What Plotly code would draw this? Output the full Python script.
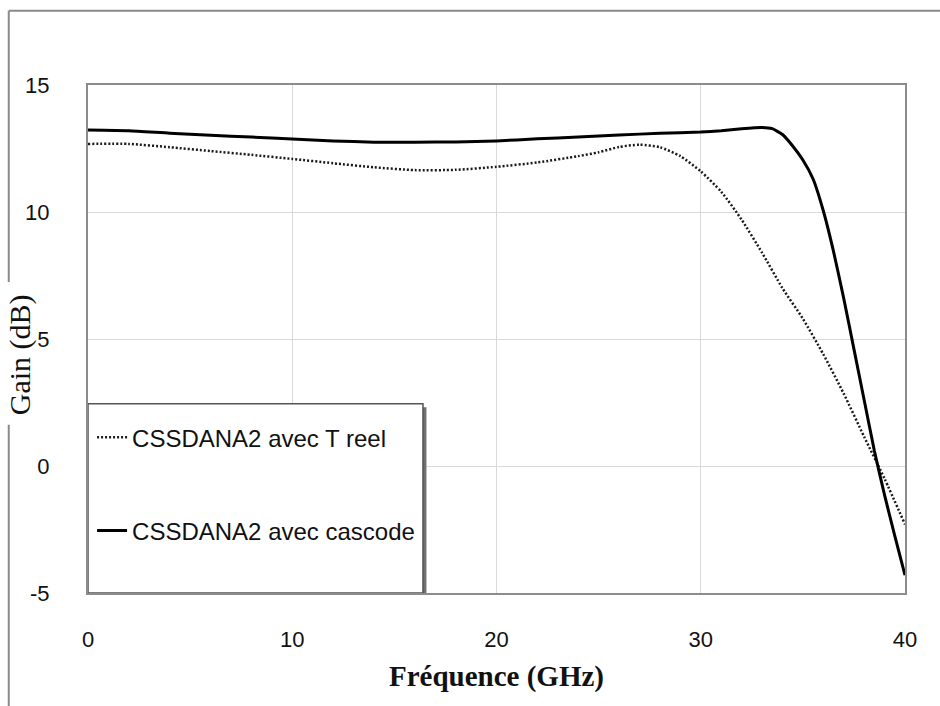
import plotly.graph_objects as go

# Frequency sweep (GHz) and measured gain (dB) for the two amplifier variants
freq_treel = [0, 2, 4, 6, 8, 10, 12, 14, 16, 18, 20, 22, 24, 25, 26, 27, 28, 29, 30,
              31, 32, 33, 34, 35, 36, 37, 38, 39, 40]
gain_treel = [12.68, 12.68, 12.55, 12.4, 12.25, 12.09, 11.92, 11.76, 11.65, 11.66, 11.78,
              11.95, 12.2, 12.35, 12.56, 12.65, 12.55, 12.2, 11.6,
              10.8, 9.7, 8.4, 7.0, 5.8, 4.4, 2.85, 1.15, -0.5, -2.3]

freq_cascode = [0, 2, 4, 6, 8, 10, 12, 14, 16, 18, 20, 22, 24, 26, 28, 30, 31, 32, 33,
                33.5, 34, 34.5, 35, 35.5, 36, 36.5, 37, 37.5, 38, 38.5, 39, 39.5, 40]
gain_cascode = [13.23, 13.2, 13.1, 13.02, 12.95, 12.87, 12.8, 12.75, 12.75, 12.76, 12.8,
                12.88, 12.95, 13.03, 13.1, 13.15, 13.2, 13.28, 13.33,
                13.28, 13.05, 12.6, 12.05, 11.3, 10.05, 8.45, 6.6, 4.6, 2.6, 0.6, -1.15, -2.75, -4.3]

x_ticks = [0, 10, 20, 30, 40]
y_ticks = [-5, 0, 5, 10, 15]
y_tick_text = ["-5", "0", "5", "10", "15"]

name_treel = "CSSDANA2 avec T reel"
name_cascode = "CSSDANA2 avec cascode"

fig = go.Figure()
fig.add_trace(go.Scatter(
    x=freq_treel, y=gain_treel, name=name_treel, mode="lines",
    line=dict(color="#1a1a1a", width=2.5, dash="2px,2px", shape="spline", smoothing=0.6),
    legendgroup="a",
))
fig.add_trace(go.Scatter(
    x=freq_cascode, y=gain_cascode, name=name_cascode, mode="lines",
    line=dict(color="#000000", width=3, shape="spline", smoothing=0.5),
    legendgroup="b",
))

# legend box with drop shadow, drawn in data space at lower left (above the grid)
box_x1, box_y1 = 16.4, 2.45
fig.add_shape(type="rect", xref="x", yref="y", x0=0.15, y0=-5.14, x1=box_x1 + 0.17, y1=box_y1 - 0.14,
              fillcolor="#707070", line=dict(width=0), layer="between")
fig.add_shape(type="rect", xref="x", yref="y", x0=0, y0=-5, x1=box_x1, y1=box_y1,
              fillcolor="white", line=dict(color="#555555", width=1.5), layer="between")

# outer frame: top line, and left line interrupted where the y title sits
frame = dict(color="#8a8a8a", width=2)
fx, fy_top, fy_bot = -0.097, 1.146, -0.25
fig.add_shape(type="line", xref="paper", yref="paper", x0=fx, x1=1.1, y0=fy_top, y1=fy_top, line=frame)
fig.add_shape(type="line", xref="paper", yref="paper", x0=fx, x1=fx, y0=fy_top, y1=0.612, line=frame)
fig.add_shape(type="line", xref="paper", yref="paper", x0=fx, x1=fx, y0=0.331, y1=fy_bot, line=frame)

fig.add_annotation(xref="paper", yref="paper", x=-0.083, y=0.4685, xanchor="center", yanchor="middle",
                   text="Gain (dB)", textangle=-90, showarrow=False,
                   font=dict(family="Liberation Serif, Times New Roman, serif", size=30, color="#111111"))
fig.add_annotation(xref="paper", yref="paper", x=0.5, y=-0.1634, xanchor="center", yanchor="middle",
                   text="<b>Fréquence (GHz)</b>", showarrow=False,
                   font=dict(family="Liberation Serif, Times New Roman, serif", size=29, color="#111111"))

axis_common = dict(
    showline=True, mirror=True, linecolor="#8c8c8c", linewidth=2,
    showgrid=True, gridcolor="#d9d9d9", gridwidth=1,
    zeroline=False, ticks="",
    tickfont=dict(family="Liberation Sans, Arial, sans-serif", size=22, color="#111111"),
)

fig.update_xaxes(range=[0, 40], tickvals=x_ticks, ticklabelstandoff=26, **axis_common)
fig.update_yaxes(range=[-5, 15], tickvals=y_ticks, ticktext=y_tick_text,
                 ticklabelstandoff=32, **axis_common)

fig.update_layout(
    width=940, height=706,
    margin=dict(l=88, r=35, t=85, b=113),
    paper_bgcolor="white", plot_bgcolor="white",
    showlegend=True,
    legend=dict(
        x=0.005, y=0.35, xanchor="left", yanchor="top",
        bgcolor="rgba(0,0,0,0)", borderwidth=0,
        traceorder="grouped", tracegroupgap=59,
        font=dict(family="Liberation Sans, Arial, sans-serif", size=24, color="#111111"),
        itemwidth=30,
    ),
)

fig.write_html("out.html")
